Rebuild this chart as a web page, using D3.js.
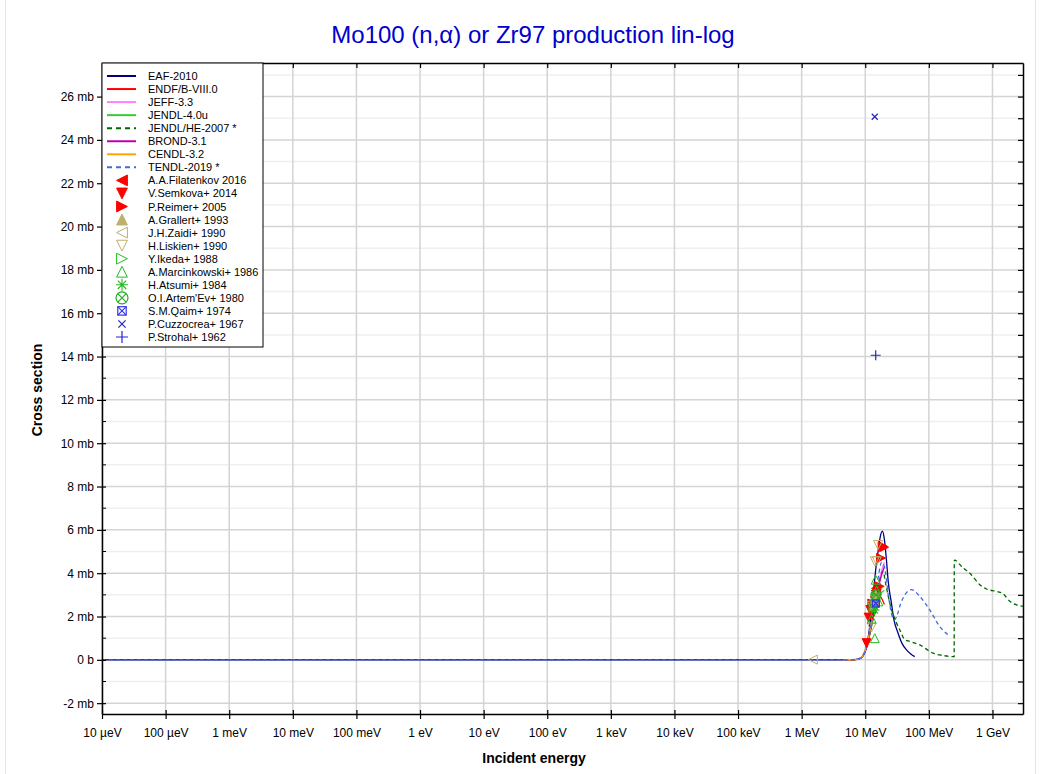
<!DOCTYPE html>
<html>
<head>
<meta charset="utf-8">
<script src="https://cdn.jsdelivr.net/npm/d3@7"></script>
<style>
  body { margin: 0; background: #fff; }
  text { font-family: "Liberation Sans", Arial, sans-serif; }
</style>
</head>
<body>
<div id="chart"></div>
<script>
// energies in MeV, cross sections in mb
var eafE   = [1e-11, 5, 7, 8, 9, 10, 11, 12, 13, 14, 15, 16, 17, 18.6, 20, 21.5, 23, 25.8, 28, 32.8, 38, 44.5, 52, 60];
var eafV   = [0, 0, 0.01, 0.04, 0.15, 0.42, 0.95, 1.75, 2.75, 3.65, 4.45, 5.05, 5.6, 5.94, 5.55, 4.63, 3.6, 2.62, 1.9, 1.23, 0.75, 0.46, 0.27, 0.15];
var endfE  = [4.5, 6, 8, 9, 10, 11, 12, 13, 14, 15, 16, 17, 18, 19, 20];
var endfV  = [0, 0.005, 0.05, 0.15, 0.4, 0.8, 1.3, 1.8, 2.3, 2.6, 2.85, 2.93, 2.85, 2.7, 2.55];
var jeffE  = [4.5, 6, 8, 9, 10, 12, 14, 16, 18, 20];
var jeffV  = [0, 0.005, 0.05, 0.15, 0.4, 1.4, 2.5, 3.4, 4.1, 4.5];
var jendlE = [4.5, 6, 8, 9, 10, 12, 14, 16, 18, 20];
var jendlV = [0, 0.005, 0.05, 0.15, 0.4, 1.3, 2.2, 2.8, 3.1, 3.2];
var jheE   = [4.5, 6, 8, 9, 10, 12, 14, 16, 18, 19, 21, 24.3, 31, 34.8, 41.8, 50, 72, 116, 167, 240, 250, 251, 345, 440, 631, 805, 1156, 1470, 1870, 2380, 3000];
var jheV   = [0, 0.005, 0.05, 0.15, 0.4, 1.3, 2.3, 3.3, 4.0, 4.09, 3.5, 2.62, 1.7, 1.39, 0.93, 0.85, 0.69, 0.31, 0.2, 0.15, 0.15, 4.6, 4.24, 4.0, 3.47, 3.27, 3.16, 3.05, 2.7, 2.54, 2.47];
var brondE = [4.5, 6, 8, 9, 10, 12, 14, 16, 18, 20];
var brondV = [0, 0.005, 0.05, 0.15, 0.4, 1.35, 2.4, 3.3, 3.9, 4.3];
var cendlE = [4.5, 6, 8, 9, 10, 12, 14, 16, 18, 20];
var cendlV = [0, 0.005, 0.05, 0.16, 0.45, 1.4, 2.4, 3.0, 3.3, 3.4];
var tendlE = [1e-11, 5, 8, 9, 10, 12, 14, 16, 18, 20, 23, 26, 29, 32, 36, 42, 53, 72, 103, 148, 200];
var tendlV = [0, 0, 0.05, 0.15, 0.4, 1.4, 2.6, 3.8, 4.5, 4.3, 3.0, 2.1, 1.85, 2.1, 2.6, 3.0, 3.24, 2.93, 2.31, 1.54, 1.16];

var evalNames  = ["EAF-2010", "ENDF/B-VIII.0", "JEFF-3.3", "JENDL-4.0u", "JENDL/HE-2007 *", "BROND-3.1", "CENDL-3.2", "TENDL-2019 *"];
var evalColors = ["#000080", "#ff0000", "#ff80ff", "#33cc33", "#006600", "#bb00aa", "#ffa500", "#4169e1"];
var evalDash   = [null, null, null, null, "4,3", null, null, "4,3"];
var evalE = [eafE, endfE, jeffE, jendlE, jheE, brondE, cendlE, tendlE];
var evalV = [eafV, endfV, jeffV, jendlV, jheV, brondV, cendlV, tendlV];

var expNames  = ["A.A.Filatenkov 2016", "V.Semkova+ 2014", "P.Reimer+ 2005", "A.Grallert+ 1993", "J.H.Zaidi+ 1990",
                 "H.Liskien+ 1990", "Y.Ikeda+ 1988", "A.Marcinkowski+ 1986", "H.Atsumi+ 1984", "O.I.Artem'Ev+ 1980",
                 "S.M.Qaim+ 1974", "P.Cuzzocrea+ 1967", "P.Strohal+ 1962"];
var expColors = ["#ff0000", "#ff0000", "#ff0000", "#bdb06b", "#bdb06b", "#bdb06b", "#22bb22", "#22bb22", "#22bb22", "#22aa22", "#3333ee", "#2222bb", "#2222dd"];
var expShapes = ["triL", "triD", "triR", "triU", "otriL", "otriD", "otriR", "otriU", "star", "ocx", "sqx", "x", "plus"];
var expE = [[13.5, 14.1, 14.6, 14.8], [10.5, 11.3, 12.0, 13.0], [12.9, 16.6, 17.7, 18.8, 19.8], [13.5, 14.1, 14.7],
            [1.5, 14.5], [12.6, 12.7, 14.1, 15.2, 15.9], [13.5, 14.0, 14.9], [12.6, 14.1, 14.6, 15.2, 16.0],
            [14.0], [14.7], [14.7], [14.1], [14.6]];
var expV = [[2.6, 2.9, 3.2, 3.3], [0.77, 1.95, 2.3, 2.1], [2.6, 3.4, 4.7, 5.25, 5.2], [2.5, 2.8, 3.0],
            [0.01, 2.9], [1.5, 2.5, 4.55, 4.55, 5.3], [2.4, 2.6, 2.9], [1.9, 1.0, 3.7, 3.2, 2.7],
            [2.3], [3.0], [2.6], [25.07], [14.06]];

var xTickVals = [1e-5, 1e-4, 1e-3, 1e-2, 1e-1, 1, 10, 100, 1e3, 1e4, 1e5, 1e6, 1e7, 1e8, 1e9];
var xTickLabels = ["10 \u00b5eV", "100 \u00b5eV", "1 meV", "10 meV", "100 meV", "1 eV", "10 eV", "100 eV",
                   "1 keV", "10 keV", "100 keV", "1 MeV", "10 MeV", "100 MeV", "1 GeV"];
var yTickVals = [-2, 0, 2, 4, 6, 8, 10, 12, 14, 16, 18, 20, 22, 24, 26];

var W = 1053, H = 774;
var margin = {top: 63, right: 30, bottom: 60, left: 102};
var width = 1023 - margin.left, height = 714 - margin.top;

var svg = d3.select("#chart").append("svg")
    .attr("width", W)
    .attr("height", H);

svg.append("rect")
    .attr("x", 5.5).attr("y", -1).attr("width", 1030).attr("height", H + 2)
    .attr("fill", "none").attr("stroke", "#e4e4e4");

var g = svg.append("g")
    .attr("transform", "translate(" + margin.left + "," + margin.top + ")");

var x = d3.scaleLog().domain([1e-5, 3.02e9]).range([0, width]);
var y = d3.scaleLinear().domain([-2.5, 27.55]).range([height, 0]);

// grid
var minorY = d3.range(-1, 28, 2);
g.append("g").selectAll("line").data(minorY).enter().append("line")
    .attr("x1", 0).attr("x2", width)
    .attr("y1", function(d) { return y(d); }).attr("y2", function(d) { return y(d); })
    .attr("stroke", "#efefef").attr("stroke-width", 1.5);
g.append("g").selectAll("line").data(yTickVals).enter().append("line")
    .attr("x1", 0).attr("x2", width)
    .attr("y1", function(d) { return y(d); }).attr("y2", function(d) { return y(d); })
    .attr("stroke", "#d4d4d4").attr("stroke-width", 1.5);
g.append("g").selectAll("line").data(xTickVals).enter().append("line")
    .attr("y1", 0).attr("y2", height)
    .attr("x1", function(d) { return x(d); }).attr("x2", function(d) { return x(d); })
    .attr("stroke", "#d4d4d4").attr("stroke-width", 1.5);

// clip
g.append("defs").append("clipPath").attr("id", "clip")
    .append("rect").attr("width", width).attr("height", height);

var line = d3.line()
    .x(function(d) { return x(d[0] * 1e6); })
    .y(function(d) { return y(d[1]); })
    .curve(d3.curveMonotoneX);

var plot = g.append("g").attr("clip-path", "url(#clip)");

evalNames.forEach(function(name, i) {
    var pts = evalE[i].map(function(e, j) { return [e, evalV[i][j]]; });
    plot.append("path")
        .attr("d", line(pts))
        .attr("fill", "none")
        .attr("stroke", evalColors[i])
        .attr("stroke-width", 1.3)
        .attr("stroke-dasharray", evalDash[i]);
});

function marker(sel, shape, color, k) {
    var s = 4.5 * k;
    var p = null, filled = false;
    if (shape == "triL" || shape == "otriL") p = "M" + (-s) + ",0L" + s + "," + (-s) + "L" + s + "," + s + "Z";
    if (shape == "triR" || shape == "otriR") p = "M" + s + ",0L" + (-s) + "," + (-s) + "L" + (-s) + "," + s + "Z";
    if (shape == "triU" || shape == "otriU") p = "M0," + (-s) + "L" + s + "," + s + "L" + (-s) + "," + s + "Z";
    if (shape == "triD" || shape == "otriD") p = "M0," + s + "L" + s + "," + (-s) + "L" + (-s) + "," + (-s) + "Z";
    if (p) {
        filled = shape.charAt(0) != "o";
        sel.append("path").attr("d", p)
            .attr("fill", filled ? color : "none")
            .attr("stroke", color).attr("stroke-width", 1);
        return;
    }
    if (shape == "x" || shape == "sqx" || shape == "ocx") {
        var r = (shape == "x" ? 3 : 3.5) * k;
        sel.append("path").attr("d", "M" + (-r) + "," + (-r) + "L" + r + "," + r + "M" + (-r) + "," + r + "L" + r + "," + (-r))
            .attr("stroke", color).attr("stroke-width", 1.2);
        if (shape == "sqx") sel.append("rect").attr("x", -r).attr("y", -r).attr("width", 2 * r).attr("height", 2 * r)
            .attr("fill", "none").attr("stroke", color).attr("stroke-width", 1.2);
        if (shape == "ocx") sel.append("circle").attr("r", 5 * k)
            .attr("fill", "none").attr("stroke", color).attr("stroke-width", 1.2);
        return;
    }
    var t = 5 * k, u = 3.5 * k;
    if (shape == "plus") {
        sel.append("path").attr("d", "M" + (-t) + ",0L" + t + ",0M0," + (-t) + "L0," + t)
            .attr("stroke", color).attr("stroke-width", 1.2);
        return;
    }
    if (shape == "star") {
        sel.append("path").attr("d", "M" + (-t) + ",0L" + t + ",0M0," + (-t) + "L0," + t +
                "M" + (-u) + "," + (-u) + "L" + u + "," + u + "M" + (-u) + "," + u + "L" + u + "," + (-u))
            .attr("stroke", color).attr("stroke-width", 1.1);
    }
}

expNames.forEach(function(name, i) {
    expE[i].forEach(function(e, j) {
        var m = plot.append("g")
            .attr("transform", "translate(" + x(e * 1e6) + "," + y(expV[i][j]) + ")");
        marker(m, expShapes[i], expColors[i], 1);
    });
});

// axes
var xAxisB = d3.axisBottom(x).tickValues(xTickVals)
    .tickFormat(function(d, i) { return xTickLabels[i]; }).tickSizeInner(5).tickSizeOuter(0);
var gxb = g.append("g").attr("transform", "translate(0," + height + ")").call(xAxisB);
gxb.selectAll(".tick line").attr("y1", -4);
gxb.selectAll("text").attr("dy", "1.25em").style("font-size", "12px").attr("fill", "#000");

var xAxisT = d3.axisTop(x).tickValues(xTickVals).tickFormat("").tickSizeInner(-5).tickSizeOuter(0);
g.append("g").call(xAxisT);

var yAxisL = d3.axisLeft(y).tickValues(yTickVals)
    .tickFormat(function(d) { return d == 0 ? "0 b" : d + " mb"; }).tickSizeInner(5).tickSizeOuter(0);
var gyl = g.append("g").call(yAxisL);
gyl.selectAll(".tick line").attr("x1", 4);
gyl.selectAll("text").style("font-size", "12px").attr("fill", "#000").attr("x", -8);

g.append("g").selectAll("line").data(minorY).enter().append("line")
    .attr("x1", 0).attr("x2", 4)
    .attr("y1", function(d) { return y(d); }).attr("y2", function(d) { return y(d); })
    .attr("stroke", "#000");

var yAxisR = d3.axisRight(y).tickValues(yTickVals.concat(minorY)).tickFormat("").tickSizeInner(-5).tickSizeOuter(0);
g.append("g").attr("transform", "translate(" + width + ",0)").call(yAxisR);

g.selectAll(".domain").attr("stroke", "#000").attr("stroke-width", 1.5);
g.selectAll(".tick line").attr("stroke", "#000").attr("stroke-width", 1.2);

// titles
svg.append("text")
    .attr("x", 533).attr("y", 43)
    .attr("text-anchor", "middle")
    .attr("fill", "#0000cc")
    .style("font-size", "24px")
    .text("Mo100 (n,\u03b1) or Zr97 production lin-log");

svg.append("text")
    .attr("x", 534).attr("y", 763)
    .attr("text-anchor", "middle")
    .style("font-size", "14px").style("font-weight", "bold")
    .text("Incident energy");

svg.append("text")
    .attr("transform", "translate(42,390) rotate(-90)")
    .attr("text-anchor", "middle")
    .style("font-size", "14px").style("font-weight", "bold")
    .text("Cross section");

// legend
var legend = svg.append("g").attr("transform", "translate(102,63)");
legend.append("rect")
    .attr("width", 161).attr("height", 284)
    .attr("fill", "#fff").attr("stroke", "#000").attr("stroke-width", 1);

var rowH = 13.05, row0 = 13;
evalNames.forEach(function(name, i) {
    var yy = row0 + rowH * i;
    legend.append("line")
        .attr("x1", 5).attr("x2", 34).attr("y1", yy).attr("y2", yy)
        .attr("stroke", evalColors[i]).attr("stroke-width", 2)
        .attr("stroke-dasharray", evalDash[i] ? "5,4" : null);
    legend.append("text").attr("x", 46).attr("y", yy + 4)
        .style("font-size", "11px").text(name);
});
expNames.forEach(function(name, i) {
    var yy = row0 + rowH * (i + evalNames.length);
    var m = legend.append("g").attr("transform", "translate(20," + yy + ")");
    marker(m, expShapes[i], expColors[i], 1.2);
    legend.append("text").attr("x", 46).attr("y", yy + 4)
        .style("font-size", "11px").text(name);
});
</script>
</body>
</html>
